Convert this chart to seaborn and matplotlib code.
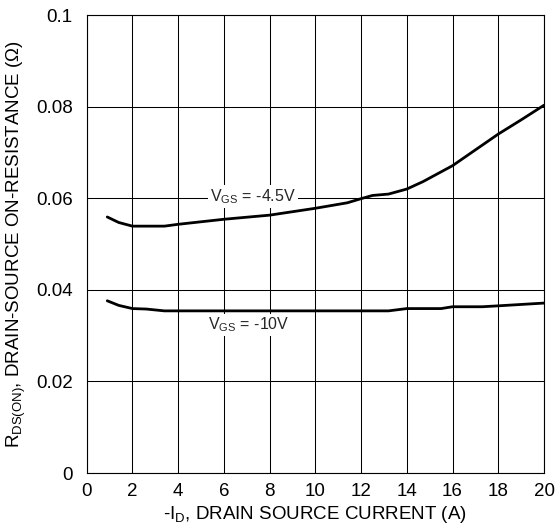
import matplotlib
matplotlib.use("Agg")
import matplotlib.pyplot as plt
import seaborn as sns
import pandas as pd

# Data
id_45 = [0.9, 1.4, 2.0, 3.4, 4.0, 6.0, 8.0, 10.0, 11.4, 12.0, 12.5, 13.2, 14.0, 14.7, 16.0, 18.0, 19.0, 20.0]
r_45 = [0.0559, 0.0547, 0.0539, 0.0539, 0.0543, 0.0554, 0.0563, 0.0578, 0.0590, 0.0599, 0.0606, 0.0609, 0.0620, 0.0636, 0.0671, 0.0740, 0.0771, 0.0803]
id_10 = [0.9, 1.4, 2.0, 2.6, 3.4, 6.0, 8.0, 10.0, 12.0, 13.2, 14.0, 15.5, 16.0, 17.3, 18.0, 20.0]
r_10 = [0.0376, 0.0366, 0.0359, 0.0358, 0.0354, 0.0354, 0.0354, 0.0354, 0.0354, 0.0354, 0.0359, 0.0359, 0.0363, 0.0363, 0.0365, 0.0371]
x_ticks = [0, 2, 4, 6, 8, 10, 12, 14, 16, 18, 20]
y_ticks = [0, 0.02, 0.04, 0.06, 0.08, 0.1]
y_tick_labels = ["0", "0.02", "0.04", "0.06", "0.08", "0.1"]

sns.set_theme(style="white")
plt.rcParams['font.family'] = ['Liberation Sans', 'DejaVu Sans']
plt.rcParams['mathtext.fontset'] = 'custom'
plt.rcParams['mathtext.rm'] = 'Liberation Sans'
plt.rcParams['mathtext.it'] = 'Liberation Sans'

df = pd.concat([
    pd.DataFrame({"I": id_45, "R": r_45, "V": "-4.5V"}),
    pd.DataFrame({"I": id_10, "R": r_10, "V": "-10V"}),
])

fig = plt.figure(figsize=(5.57, 5.26), dpi=100)
ax = fig.add_axes([86.7/557, 1 - 473/526, (544 - 86.7)/557, (473 - 15)/526])

sns.lineplot(data=df, x="I", y="R", units="V", estimator=None, color="black",
             linewidth=2.0, ax=ax, legend=False, sort=False, zorder=3)

ax.set_xlim(0, 20)
ax.set_ylim(0, 0.1)
ax.set_xticks(x_ticks)
ax.set_yticks(y_ticks)
ax.set_yticklabels(y_tick_labels)
ax.grid(True, color="black", linewidth=0.75)
ax.set_axisbelow(True)
for s in ax.spines.values():
    s.set_color("black")
    s.set_linewidth(0.8)
ax.tick_params(axis="both", length=0, labelsize=13.5, colors="black")
ax.tick_params(axis="y", pad=10)
ax.tick_params(axis="x", pad=7)

ax.set_xlabel(r"-I$_{\mathregular{D}}$, DRAIN SOURCE CURRENT (A)", fontsize=13.5, color="black", labelpad=3)
ax.set_ylabel(r"R$_{\mathregular{DS(ON)}}$, DRAIN-SOURCE ON-RESISTANCE (Ω)", fontsize=13.5, color="black", labelpad=6)

bbox = dict(facecolor="white", edgecolor="none", pad=1.5)
ax.text(7.26, 0.0603, r"V$_{\mathregular{GS}}$ = -4.5V", fontsize=11.5, ha="center", va="center", bbox=bbox, zorder=4)
ax.text(7.07, 0.0323, r"V$_{\mathregular{GS}}$ = -10V", fontsize=11.5, ha="center", va="center", bbox=bbox, zorder=4)

fig.savefig("out.png", dpi=100)
